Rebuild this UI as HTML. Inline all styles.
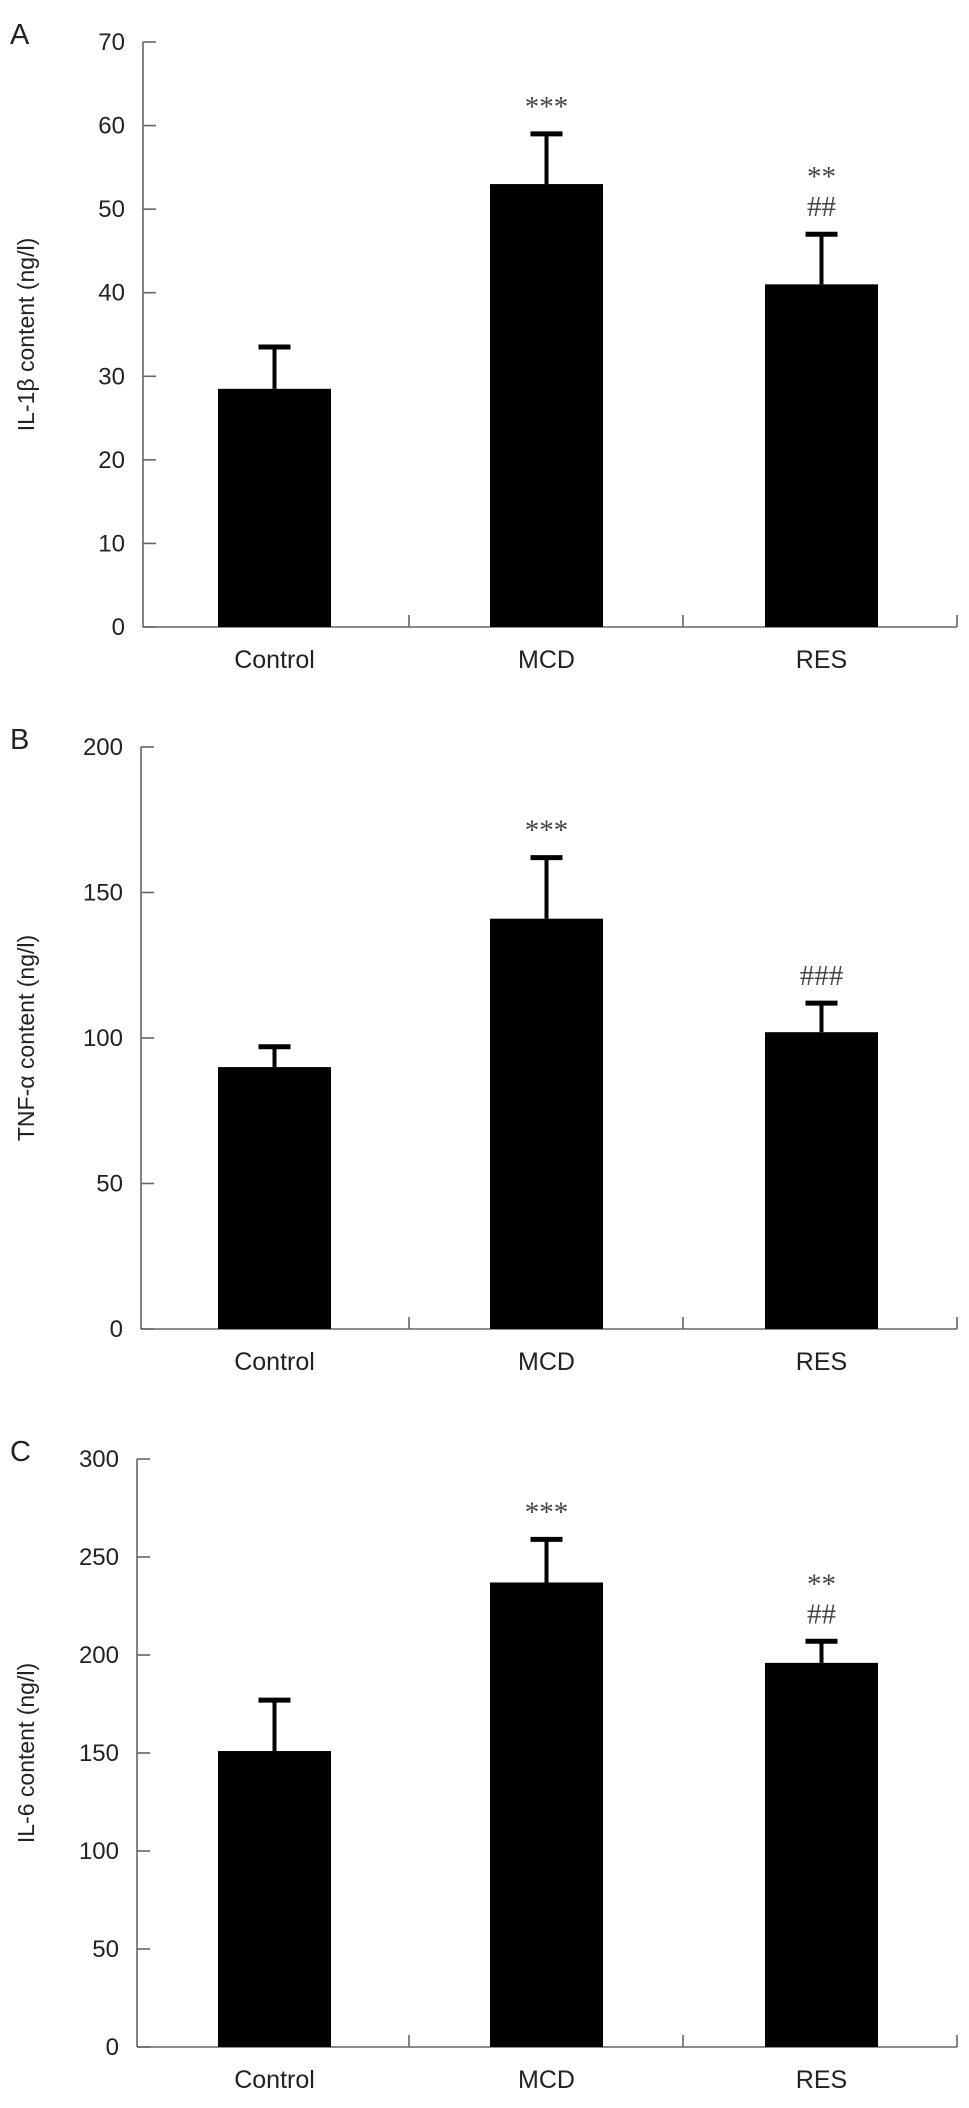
<!DOCTYPE html>
<html><head><meta charset="utf-8"><style>
body{margin:0;background:#fff;}
svg{display:block;font-family:"Liberation Sans",sans-serif;}
</style></head><body>
<svg id="chart" width="969" height="2108" viewBox="0 0 969 2108"></svg>
<script>
const categories = ["Control", "MCD", "RES"];
const il1bValues = [28.5, 53, 41];
const il1bErrors = [5, 6, 6];
const il1bMarks = ["", "***", "**\n##"];
const tnfValues = [90, 141, 102];
const tnfErrors = [7, 21, 10];
const tnfMarks = ["", "***", "###"];
const il6Values = [151, 237, 196];
const il6Errors = [26, 22, 11];
const il6Marks = ["", "***", "**\n##"];
const il1bTicks = [0, 10, 20, 30, 40, 50, 60, 70];
const tnfTicks = [0, 50, 100, 150, 200];
const il6Ticks = [0, 50, 100, 150, 200, 250, 300];

const NS = "http://www.w3.org/2000/svg";
const svg = document.getElementById("chart");
function mk(tag, attrs, parent) {
  const e = document.createElementNS(NS, tag);
  for (const k in attrs) e.setAttribute(k, attrs[k]);
  (parent || svg).appendChild(e);
  return e;
}
const barLefts = [218, 490, 765];
const barW = 113;
const axisEnd = 957;
const sepTicks = [409, 683, 957];

function panel(cfg) {
  const g = mk("g", {});
  
  
  const axisX = cfg.axisX;
  const max = cfg.ticks[cfg.ticks.length - 1];
  const y = v => cfg.y0 - (v / max) * (cfg.y0 - cfg.yTop);
  const lt = mk("text", {x: 10, y: cfg.yTop + 2, "font-size": 29, fill: "#222"}, g);
  lt.textContent = cfg.letter;
  
  
  const ya = mk("line", {x1: axisX, x2: axisX, y1: cfg.yTop, y2: cfg.y0, stroke: "#666", "stroke-width": 1.6}, g);
  
  
  cfg.ticks.forEach(t => {
    mk("line", {x1: axisX, x2: axisX + 13, y1: y(t), y2: y(t), stroke: "#666", "stroke-width": 1.6}, g);
    const tx = mk("text", {x: axisX - 18, y: y(t) + 8, "font-size": 24, "text-anchor": "end", fill: "#222"}, g);
    tx.textContent = t;
    
    
  });
  const xa = mk("line", {x1: axisX, x2: axisEnd, y1: cfg.y0, y2: cfg.y0, stroke: "#666", "stroke-width": 1.6}, g);
  
  
  sepTicks.forEach(sx => mk("line", {x1: sx, x2: sx, y1: cfg.y0 - 12, y2: cfg.y0, stroke: "#666", "stroke-width": 1.6}, g));
  const yt = mk("text", {transform: `translate(34,${(cfg.yTop + cfg.y0) / 2}) rotate(-90)`, "font-size": 23, "text-anchor": "middle", fill: "#222"}, g);
  yt.textContent = cfg.title;
  
  
  categories.forEach((c, i) => {
    const v = cfg.values[i], e = cfg.errors[i];
    const cx = barLefts[i] + barW / 2;
    const el = mk("line", {x1: cx, x2: cx, y1: y(v + e), y2: y(v), stroke: "#000", "stroke-width": 4}, g);
    
    
    mk("line", {x1: cx - 16, x2: cx + 16, y1: y(v + e), y2: y(v + e), stroke: "#000", "stroke-width": 5}, g);
    const b = mk("rect", {x: barLefts[i], y: y(v), width: barW, height: cfg.y0 - y(v), fill: "#000"}, g);
    
    
    const lab = mk("text", {x: cx, y: cfg.y0 + 41, "font-size": 25, "text-anchor": "middle", fill: "#222"}, g);
    lab.textContent = c;
    
    
    const lines = cfg.marks[i] ? cfg.marks[i].split("\n") : [];
    lines.forEach((s, k) => {
      const ty = y(v + e) - 18 - (lines.length - 1 - k) * 30;
      const st = mk("text", {x: cx, y: ty, "font-size": 29, "text-anchor": "middle", fill: "#444", "font-family": "Liberation Serif, serif"}, g);
      st.textContent = s;
      
      
    });
  });
}
panel({name: "panel-a-il1b", letter: "A", title: "IL-1\u03b2 content (ng/l)", ticks: il1bTicks, values: il1bValues, errors: il1bErrors, marks: il1bMarks, yTop: 42, y0: 627, axisX: 143});
panel({name: "panel-b-tnf", letter: "B", title: "TNF-\u03b1 content (ng/l)", ticks: tnfTicks, values: tnfValues, errors: tnfErrors, marks: tnfMarks, yTop: 747, y0: 1329, axisX: 141});
panel({name: "panel-c-il6", letter: "C", title: "IL-6 content (ng/l)", ticks: il6Ticks, values: il6Values, errors: il6Errors, marks: il6Marks, yTop: 1459, y0: 2047, axisX: 137});
</script>
</body></html>
